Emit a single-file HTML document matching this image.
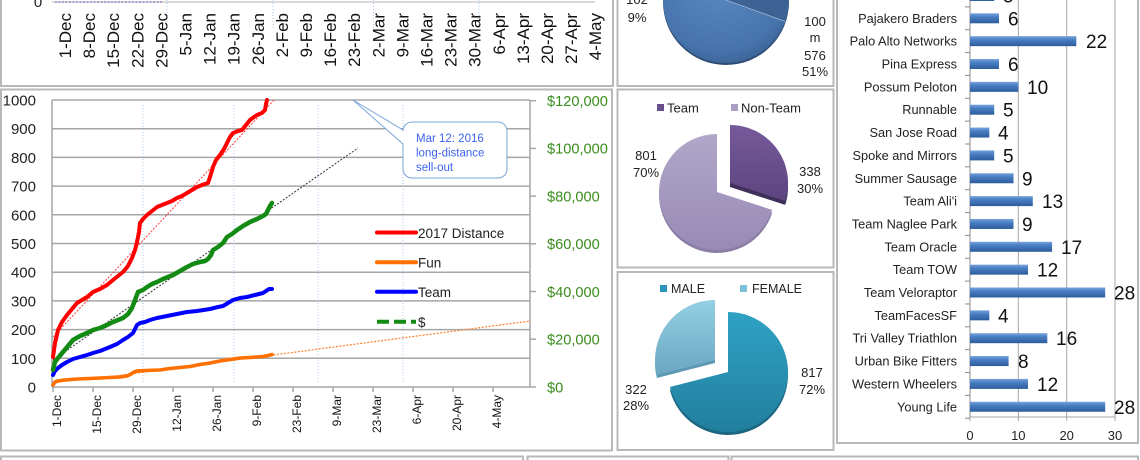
<!DOCTYPE html>
<html><head><meta charset="utf-8"><style>
html,body{margin:0;padding:0;background:#fff;}
svg{display:block;font-family:"Liberation Sans",Arial,sans-serif;}
</style></head><body>
<svg width="1140" height="460" viewBox="0 0 1140 460" xmlns="http://www.w3.org/2000/svg">
<defs>
<radialGradient id="gBlue" cx="0.45" cy="0.35" r="0.7"><stop offset="0" stop-color="#5b89c2"/><stop offset="0.8" stop-color="#4673ab"/><stop offset="1" stop-color="#3a5f90"/></radialGradient>
<linearGradient id="gTeam" x1="0" y1="0" x2="0" y2="1"><stop offset="0" stop-color="#76599a"/><stop offset="1" stop-color="#5d4580"/></linearGradient>
<linearGradient id="gNon" x1="0" y1="0" x2="0" y2="1"><stop offset="0" stop-color="#b1a7c9"/><stop offset="1" stop-color="#978ab4"/></linearGradient>
<linearGradient id="gMale" x1="0" y1="0" x2="0" y2="1"><stop offset="0" stop-color="#2fa2c4"/><stop offset="1" stop-color="#227f9e"/></linearGradient>
<linearGradient id="gFem" x1="0" y1="0" x2="0" y2="1"><stop offset="0" stop-color="#94cfe3"/><stop offset="1" stop-color="#6ba7c2"/></linearGradient>
<linearGradient id="gBar" x1="0" y1="0" x2="0" y2="1"><stop offset="0" stop-color="#78a3db"/><stop offset="0.35" stop-color="#4a7fc4"/><stop offset="1" stop-color="#2d5c9c"/></linearGradient>
</defs>

<!-- ============ TOP-LEFT PANEL ============ -->
<rect x="1" y="-5" width="612" height="91" fill="#fff" stroke="#b8b8b8" stroke-width="2"/>
<line x1="52" y1="2" x2="595" y2="2" stroke="#c4c4c4" stroke-width="1.2"/>
<line x1="55" y1="2" x2="163" y2="2" stroke="#9a86cc" stroke-width="1.5" stroke-dasharray="2,1.5"/>
<g stroke="#a9c8ea" stroke-width="1" stroke-dasharray="1,2">
<line x1="167" y1="0" x2="167" y2="32"/><line x1="273" y1="0" x2="273" y2="30"/>
<line x1="373.5" y1="0" x2="373.5" y2="30"/><line x1="479" y1="0" x2="479" y2="30"/>
</g>
<text x="38" y="7" font-size="15" text-anchor="middle" fill="#222">0</text>
<g font-size="17" fill="#111" text-anchor="end">
<text transform="translate(71,13) rotate(-90)">1-Dec</text>
<text transform="translate(95.1,13) rotate(-90)">8-Dec</text>
<text transform="translate(119.2,13) rotate(-90)">15-Dec</text>
<text transform="translate(143.3,13) rotate(-90)">22-Dec</text>
<text transform="translate(167.4,13) rotate(-90)">29-Dec</text>
<text transform="translate(191.5,13) rotate(-90)">5-Jan</text>
<text transform="translate(215.6,13) rotate(-90)">12-Jan</text>
<text transform="translate(239.7,13) rotate(-90)">19-Jan</text>
<text transform="translate(263.8,13) rotate(-90)">26-Jan</text>
<text transform="translate(287.9,13) rotate(-90)">2-Feb</text>
<text transform="translate(312,13) rotate(-90)">9-Feb</text>
<text transform="translate(336.1,13) rotate(-90)">16-Feb</text>
<text transform="translate(360.2,13) rotate(-90)">23-Feb</text>
<text transform="translate(384.3,13) rotate(-90)">2-Mar</text>
<text transform="translate(408.4,13) rotate(-90)">9-Mar</text>
<text transform="translate(432.5,13) rotate(-90)">16-Mar</text>
<text transform="translate(456.6,13) rotate(-90)">23-Mar</text>
<text transform="translate(480.7,13) rotate(-90)">30-Mar</text>
<text transform="translate(504.8,13) rotate(-90)">6-Apr</text>
<text transform="translate(528.9,13) rotate(-90)">13-Apr</text>
<text transform="translate(553,13) rotate(-90)">20-Apr</text>
<text transform="translate(577.1,13) rotate(-90)">27-Apr</text>
<text transform="translate(601.2,13) rotate(-90)">4-May</text>
</g>

<!-- ============ MAIN CHART PANEL ============ -->
<rect x="1" y="89.5" width="611" height="361" fill="#fff" stroke="#b8b8b8" stroke-width="2"/>
<!-- horizontal gridlines -->
<g stroke="#a6a6a6" stroke-width="1.5">
<line x1="52" y1="100" x2="530" y2="100"/><line x1="52" y1="128.7" x2="530" y2="128.7"/>
<line x1="52" y1="157.4" x2="530" y2="157.4"/><line x1="52" y1="186.1" x2="530" y2="186.1"/>
<line x1="52" y1="214.8" x2="530" y2="214.8"/><line x1="52" y1="243.5" x2="530" y2="243.5"/>
<line x1="52" y1="272.2" x2="530" y2="272.2"/><line x1="52" y1="300.9" x2="530" y2="300.9"/>
<line x1="52" y1="329.6" x2="530" y2="329.6"/><line x1="52" y1="358.3" x2="530" y2="358.3"/>
<line x1="52" y1="387" x2="530" y2="387"/>
<line x1="52" y1="100" x2="52" y2="387"/><line x1="530" y1="100" x2="530" y2="387"/>
</g>
<!-- vertical dotted lines -->
<g stroke="#a9c8ea" stroke-width="1" stroke-dasharray="1,2">
<line x1="143" y1="105" x2="143" y2="382"/><line x1="234" y1="105" x2="234" y2="382"/>
<line x1="318" y1="105" x2="318" y2="382"/><line x1="403" y1="105" x2="403" y2="382"/>
</g>
<!-- left axis labels -->
<g font-size="15" fill="#222" text-anchor="end">
<text x="36" y="105.5">1000</text><text x="36" y="134.2">900</text><text x="36" y="162.9">800</text>
<text x="36" y="191.6">700</text><text x="36" y="220.3">600</text><text x="36" y="249">500</text>
<text x="36" y="277.7">400</text><text x="36" y="306.4">300</text><text x="36" y="335.1">200</text>
<text x="36" y="363.8">100</text><text x="36" y="392.5">0</text>
</g>
<!-- right axis ticks & labels -->
<g stroke="#a6a6a6" stroke-width="1.5">
<line x1="530" y1="100.7" x2="536" y2="100.7"/><line x1="530" y1="148.4" x2="536" y2="148.4"/>
<line x1="530" y1="196.1" x2="536" y2="196.1"/><line x1="530" y1="243.8" x2="536" y2="243.8"/>
<line x1="530" y1="291.5" x2="536" y2="291.5"/><line x1="530" y1="339.2" x2="536" y2="339.2"/>
<line x1="530" y1="387" x2="536" y2="387"/>
</g>
<g font-size="14.6" fill="#3b8c1f">
<text x="547" y="106">$120,000</text><text x="547" y="153.7">$100,000</text><text x="547" y="201.4">$80,000</text>
<text x="547" y="249.1">$60,000</text><text x="547" y="296.8">$40,000</text><text x="547" y="344.5">$20,000</text>
<text x="547" y="392.3">$0</text>
</g>
<!-- x axis ticks -->
<g stroke="#a6a6a6" stroke-width="1.5">
<line x1="53" y1="387" x2="53" y2="392"/><line x1="93" y1="387" x2="93" y2="392"/>
<line x1="133" y1="387" x2="133" y2="392"/><line x1="173" y1="387" x2="173" y2="392"/>
<line x1="213" y1="387" x2="213" y2="392"/><line x1="253" y1="387" x2="253" y2="392"/>
<line x1="293" y1="387" x2="293" y2="392"/><line x1="333" y1="387" x2="333" y2="392"/>
<line x1="373" y1="387" x2="373" y2="392"/><line x1="413" y1="387" x2="413" y2="392"/>
<line x1="453" y1="387" x2="453" y2="392"/><line x1="493" y1="387" x2="493" y2="392"/>
</g>
<g font-size="12" fill="#111" text-anchor="end">
<text transform="translate(61,395) rotate(-90)">1-Dec</text>
<text transform="translate(101,395) rotate(-90)">15-Dec</text>
<text transform="translate(141,395) rotate(-90)">29-Dec</text>
<text transform="translate(181,395) rotate(-90)">12-Jan</text>
<text transform="translate(221,395) rotate(-90)">26-Jan</text>
<text transform="translate(261,395) rotate(-90)">9-Feb</text>
<text transform="translate(301,395) rotate(-90)">23-Feb</text>
<text transform="translate(341,395) rotate(-90)">9-Mar</text>
<text transform="translate(381,395) rotate(-90)">23-Mar</text>
<text transform="translate(421,395) rotate(-90)">6-Apr</text>
<text transform="translate(461,395) rotate(-90)">20-Apr</text>
<text transform="translate(501,395) rotate(-90)">4-May</text>
</g>
<!-- trend lines -->
<line x1="53" y1="337" x2="274" y2="100" stroke="#ff3b3b" stroke-width="1" stroke-dasharray="2,1.5"/>
<line x1="53" y1="360" x2="358" y2="148" stroke="#333" stroke-width="1" stroke-dasharray="2,1.5"/>
<line x1="100" y1="378" x2="530" y2="321" stroke="#ff7f2a" stroke-width="1.2" stroke-dasharray="2,1.5"/>
<!-- series -->
<g fill="none" stroke-linejoin="round" stroke-linecap="round">
<polyline stroke="#ff7000" stroke-width="3.6" points="53,385 55,382 58,381 65,380 77,379 90,378.5 100,378 110,377.5 120,377 127,376 131,374 134,372 137,371 145,370.5 160,370 170,368.5 180,367.5 190,366.5 200,364.5 210,363 220,361 230,359.5 240,358 250,357.5 263,356.5 268,355.5 272,354.5"/>
<polyline stroke="#0000ff" stroke-width="4" points="53,375 55,371 58,368 62,365 67,362 73,359 80,357 87,355 93,353 100,351 110,347 117,344 123,340 128,337 133,333 135,329 137,325 140,323 145,322 150,320 157,318 167,316 177,314 187,312 197,311 210,309 218,307 223,306 228,303 233,300 240,298 247,297 255,295 263,293 266,291 269,289 272,289"/>
<polyline stroke="#138a13" stroke-width="4.5" points="53,370 55,362 58,358 63,352 68,346 73,340 80,336 87,333 93,330 100,328 107,325 113,322 118,320 123,318 128,314 132,308 135,300 138,292 143,290 147,287 152,284 157,282 163,279 168,277 173,275 180,271 187,267 193,264 200,262 205,261 208,259 211,255 213,250 218,247 223,243 227,237 232,234 237,230 243,226 250,222 257,219 263,216 266,214 268,210 270,206 272,203"/>
<polyline stroke="#ff0000" stroke-width="4" points="53,357 55,343 58,330 62,322 67,315 72,309 77,303 82,300 87,297 93,292 100,289 107,285 113,280 118,276 123,272 128,266 132,258 135,250 137,242 139,232 140,223 143,219 147,215 152,211 157,207 162,205 167,203 172,201 177,198 182,196 187,193 192,190 197,187 202,185 208,183 210,177 213,167 216,160 220,155 224,149 227,143 230,137 233,133 238,131 242,130 246,125 250,120 254,117 257,115 262,113 265,110 266,104 267,100"/>
</g>
<!-- legend -->
<line x1="377" y1="232.5" x2="416" y2="232.5" stroke="#ff0000" stroke-width="4" stroke-linecap="round"/>
<line x1="377" y1="262.3" x2="416" y2="262.3" stroke="#ff7000" stroke-width="4" stroke-linecap="round"/>
<line x1="377" y1="291.7" x2="416" y2="291.7" stroke="#0000ff" stroke-width="4" stroke-linecap="round"/>
<line x1="377" y1="321.7" x2="416" y2="321.7" stroke="#138a13" stroke-width="4" stroke-dasharray="12,5"/>
<g font-size="13.5" fill="#222">
<text x="418" y="238">2017 Distance</text><text x="418" y="267.5">Fun</text>
<text x="418" y="297">Team</text><text x="418" y="327">$</text>
</g>
<!-- callout -->
<path d="M403,130 L353,100 L403,144" fill="#fff" stroke="#7aa3d8" stroke-width="1"/>
<rect x="403" y="122" width="104" height="56" rx="9" fill="#fff" stroke="#7aa3d8" stroke-width="1"/>
<rect x="402" y="131" width="3" height="12" fill="#fff"/>
<g font-size="11.5" fill="#3d63f0">
<text x="416" y="142">Mar 12: 2016</text><text x="416" y="156.5">long-distance</text><text x="416" y="171">sell-out</text>
</g>

<!-- ============ PIE 1 PANEL ============ -->
<rect x="617.5" y="-5" width="216" height="91" fill="#fff" stroke="#b8b8b8" stroke-width="2"/>
<circle cx="726" cy="2" r="63" fill="#2f4c75"/>
<circle cx="726" cy="0" r="63" fill="url(#gBlue)"/>
<path d="M726,0 L785.2,21.5 A63,63 0 0 0 726,-63 Z" fill="#3d6294"/>
<line x1="726" y1="0" x2="785.2" y2="21.5" stroke="#9fb6d6" stroke-width="0.8"/>
<g font-size="13" fill="#222" text-anchor="middle">
<text x="637" y="4">102</text><text x="637" y="22">9%</text>
<text x="815" y="26">100</text><text x="815" y="42">m</text><text x="815" y="60">576</text><text x="815" y="76">51%</text>
</g>

<!-- ============ PIE 2 PANEL ============ -->
<rect x="617.5" y="89.5" width="216" height="178" fill="#fff" stroke="#b8b8b8" stroke-width="2"/>
<rect x="657" y="104" width="7" height="7" fill="#6a4f8e"/>
<text x="667" y="112.5" font-size="13" fill="#222">Team</text>
<rect x="731" y="104" width="7" height="7" fill="#a99dc4"/>
<text x="741" y="112.5" font-size="13" fill="#222">Non-Team</text>
<path d="M717,195 L772.2,212.9 A58,58 0 1 1 717,137 Z" fill="#8a7ea6"/>
<path d="M717,192 L772.2,209.9 A58,58 0 1 1 717,134 Z" fill="url(#gNon)"/>
<path d="M730,187 L730,129 A58,58 0 0 1 785.2,204.9 Z" fill="#3f2f58"/>
<path d="M730,183 L730,125 A58,58 0 0 1 785.2,200.9 Z" fill="url(#gTeam)"/>
<g font-size="13" fill="#222" text-anchor="middle">
<text x="646" y="160">801</text><text x="646" y="177">70%</text>
<text x="810" y="176">338</text><text x="810" y="193">30%</text>
</g>

<!-- ============ PIE 3 PANEL ============ -->
<rect x="617.5" y="272" width="216" height="178" fill="#fff" stroke="#b8b8b8" stroke-width="2"/>
<rect x="660" y="285" width="7" height="7" fill="#2a95b8"/>
<text x="671" y="293" font-size="12.5" fill="#222">MALE</text>
<rect x="740" y="285" width="7" height="7" fill="#80c0d8"/>
<text x="752" y="293" font-size="12.5" fill="#222">FEMALE</text>
<path d="M715,363 L656.9,378 A60,60 0 0 1 715,303 Z" fill="#5f98b2"/>
<path d="M715,360 L656.9,375 A60,60 0 0 1 715,300 Z" fill="url(#gFem)"/>
<path d="M728,375 L728,315 A60,60 0 1 1 669.9,390 Z" fill="#1b6680"/>
<path d="M728,372 L728,312 A60,60 0 1 1 669.9,387 Z" fill="url(#gMale)"/>
<g font-size="13" fill="#222" text-anchor="middle">
<text x="812" y="377">817</text><text x="812" y="394">72%</text>
<text x="636" y="394">322</text><text x="636" y="410">28%</text>
</g>

<!-- ============ BAR PANEL ============ -->
<rect x="837" y="-5" width="301" height="448" fill="#fff" stroke="#b8b8b8" stroke-width="2"/>
<g stroke="#a6a6a6" stroke-width="1">
<line x1="1018.3" y1="0" x2="1018.3" y2="417"/><line x1="1066.7" y1="0" x2="1066.7" y2="417"/>
<line x1="1115" y1="0" x2="1115" y2="417"/>
<line x1="970" y1="417" x2="1115" y2="417"/>
<line x1="970" y1="417" x2="970" y2="421"/><line x1="1018.3" y1="417" x2="1018.3" y2="421"/>
<line x1="1066.7" y1="417" x2="1066.7" y2="421"/><line x1="1115" y1="417" x2="1115" y2="421"/>
</g>
<line x1="970" y1="0" x2="970" y2="417" stroke="#8a8a8a" stroke-width="1"/>
<g stroke="#8a8a8a" stroke-width="1">
<line x1="965" y1="6.9" x2="970" y2="6.9"/><line x1="965" y1="29.75" x2="970" y2="29.75"/>
<line x1="965" y1="52.6" x2="970" y2="52.6"/><line x1="965" y1="75.45" x2="970" y2="75.45"/>
<line x1="965" y1="98.3" x2="970" y2="98.3"/><line x1="965" y1="121.15" x2="970" y2="121.15"/>
<line x1="965" y1="144" x2="970" y2="144"/><line x1="965" y1="166.85" x2="970" y2="166.85"/>
<line x1="965" y1="189.7" x2="970" y2="189.7"/><line x1="965" y1="212.55" x2="970" y2="212.55"/>
<line x1="965" y1="235.4" x2="970" y2="235.4"/><line x1="965" y1="258.25" x2="970" y2="258.25"/>
<line x1="965" y1="281.1" x2="970" y2="281.1"/><line x1="965" y1="303.95" x2="970" y2="303.95"/>
<line x1="965" y1="326.8" x2="970" y2="326.8"/><line x1="965" y1="349.65" x2="970" y2="349.65"/>
<line x1="965" y1="372.5" x2="970" y2="372.5"/><line x1="965" y1="395.35" x2="970" y2="395.35"/>
<line x1="965" y1="418.2" x2="970" y2="418.2"/>
</g>
<!-- bars -->
<g fill="url(#gBar)">
<rect x="970" y="-9.5" width="24.2" height="10.5"/>
<rect x="970" y="13.3" width="29" height="10"/>
<rect x="970" y="36.15" width="106.3" height="10"/>
<rect x="970" y="59" width="29" height="10"/>
<rect x="970" y="81.85" width="48.3" height="10"/>
<rect x="970" y="104.7" width="24.2" height="10"/>
<rect x="970" y="127.55" width="19.3" height="10"/>
<rect x="970" y="150.4" width="24.2" height="10"/>
<rect x="970" y="173.25" width="43.5" height="10"/>
<rect x="970" y="196.1" width="62.8" height="10"/>
<rect x="970" y="218.95" width="43.5" height="10"/>
<rect x="970" y="241.8" width="82.1" height="10"/>
<rect x="970" y="264.65" width="58" height="10"/>
<rect x="970" y="287.5" width="135.2" height="10"/>
<rect x="970" y="310.35" width="19.3" height="10"/>
<rect x="970" y="333.2" width="77.3" height="10"/>
<rect x="970" y="356.05" width="38.6" height="10"/>
<rect x="970" y="378.9" width="58" height="10"/>
<rect x="970" y="401.75" width="135.2" height="10"/>
</g>
<!-- category labels -->
<g font-size="12.8" fill="#222" text-anchor="end">
<text x="957" y="22.8">Pajakero Braders</text>
<text x="957" y="45.65">Palo Alto Networks</text>
<text x="957" y="68.5">Pina Express</text>
<text x="957" y="91.35">Possum Peloton</text>
<text x="957" y="114.2">Runnable</text>
<text x="957" y="137.05">San Jose Road</text>
<text x="957" y="159.9">Spoke and Mirrors</text>
<text x="957" y="182.75">Summer Sausage</text>
<text x="957" y="205.6">Team Ali'i</text>
<text x="957" y="228.45">Team Naglee Park</text>
<text x="957" y="251.3">Team Oracle</text>
<text x="957" y="274.15">Team TOW</text>
<text x="957" y="297">Team Veloraptor</text>
<text x="957" y="319.85">TeamFacesSF</text>
<text x="957" y="342.7">Tri Valley Triathlon</text>
<text x="957" y="365.55">Urban Bike Fitters</text>
<text x="957" y="388.4">Western Wheelers</text>
<text x="957" y="411.25">Young Life</text>
</g>
<!-- value labels -->
<g font-size="19" fill="#111">
<text x="1003" y="2.5">5</text>
<text x="1008" y="25.3">6</text>
<text x="1086" y="48.15">22</text>
<text x="1008" y="71">6</text>
<text x="1027" y="93.85">10</text>
<text x="1003" y="116.7">5</text>
<text x="998" y="139.55">4</text>
<text x="1003" y="162.4">5</text>
<text x="1022" y="185.25">9</text>
<text x="1042" y="208.1">13</text>
<text x="1022" y="230.95">9</text>
<text x="1061" y="253.8">17</text>
<text x="1037" y="276.65">12</text>
<text x="1114" y="299.5">28</text>
<text x="998" y="322.35">4</text>
<text x="1056" y="345.2">16</text>
<text x="1018" y="368.05">8</text>
<text x="1037" y="390.9">12</text>
<text x="1114" y="413.75">28</text>
</g>
<g font-size="13" fill="#222" text-anchor="middle">
<text x="970" y="440">0</text><text x="1018.3" y="440">10</text>
<text x="1066.7" y="440">20</text><text x="1115" y="440">30</text>
</g>

<!-- ============ BOTTOM PANELS ============ -->
<rect x="1" y="456.5" width="522" height="20" fill="#fff" stroke="#b8b8b8" stroke-width="2"/>
<rect x="527.5" y="456.5" width="201" height="20" fill="#fff" stroke="#b8b8b8" stroke-width="2"/>
<rect x="731.5" y="456.5" width="406.5" height="20" fill="#fff" stroke="#b8b8b8" stroke-width="2"/>
</svg>
</body></html>
